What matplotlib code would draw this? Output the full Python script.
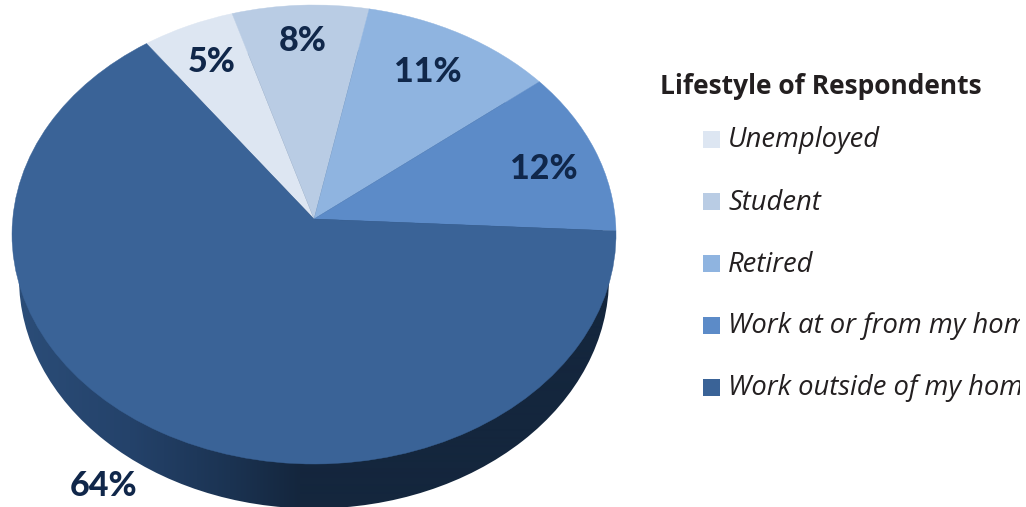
import numpy as np
import matplotlib
matplotlib.use("Agg")
import matplotlib.pyplot as plt
from matplotlib.patches import Ellipse, Rectangle
from matplotlib.path import Path
from matplotlib.transforms import Transform

categories = ["Unemployed", "Student", "Retired", "Work at or from my home", "Work outside of my home"]
shares = [5.3, 7.8, 11.1, 11.6, 64.2]
pct_labels = ["5%", "8%", "11%", "12%", "64%"]
colors = ["#dde6f2", "#b9cce4", "#8fb4e0", "#5c8bc8", "#3a6397"]
legend_title = "Lifestyle of Respondents"

LABEL_POS = [(212, 62), (303, 41), (428, 72), (544, 169), (104, 486)]
LEGEND_Y = [139, 201, 263, 325, 387]

CX, APEX_Y, TOP_Y, BOT_Y, RX = 314.0, 219.0, 5.0, 464.0, 302.0
C = (2 * APEX_Y - TOP_Y - BOT_Y) / (TOP_Y - BOT_Y)
A = TOP_Y * (C + 1) - APEX_Y
K = RX * np.sqrt(1 - C * C)


class Perspective(Transform):
    """Projective map of the unit circle onto the tilted pie top, in pixels."""
    input_dims = output_dims = 2
    is_affine = False

    def transform_non_affine(self, values):
        v = np.asarray(values, dtype=float)
        w = 1 + C * v[:, 1]
        return np.column_stack((CX + K * v[:, 0] / w, (A * v[:, 1] + APEX_Y) / w))

    def transform_path_non_affine(self, path):
        return Path(self.transform_non_affine(path.vertices), path.codes)


fig = plt.figure(figsize=(10.26, 5.07), dpi=100)
ax = fig.add_axes([0, 0, 1, 1])

wedges, _ = ax.pie(shares, colors=colors, startangle=125.9, counterclock=False,
                   radius=1, wedgeprops=dict(linewidth=0.3))
persp = Perspective()
for w, col in zip(wedges, colors):
    w.set_edgecolor(col)
    w.set_transform(persp + ax.transData)
    w.set_zorder(3)

ax.set_aspect("auto")
ax.set_xlim(0, 1026)
ax.set_ylim(507, 0)
ax.axis("off")

# side wall of the pie: horizontal gradient clipped to the lower rim
ycen = (TOP_Y + BOT_Y) / 2 + 0.5
wall = Ellipse((CX, ycen + 43), 2 * 295, BOT_Y - TOP_Y + 2, facecolor="none", edgecolor="none",
               transform=ax.transData)
ax.add_patch(wall)
stops_x = np.array([0, 17, 130, 230, 300, 1026]) / 1026.0
cols = np.array([matplotlib.colors.to_rgb(c) for c in
                 ["#2b4d78", "#2b4d78", "#24426a", "#1b3352", "#14263d", "#14263d"]])
xs = np.linspace(0, 1, 1026)
grad = np.stack([np.interp(xs, stops_x, cols[:, i]) for i in range(3)], axis=-1)[None, :, :]
im = ax.imshow(grad, extent=(0, 1026, 507, 0), aspect="auto", zorder=1, interpolation="bilinear")
im.set_clip_path(wall)
ax.set_xlim(0, 1026)
ax.set_ylim(507, 0)

for txt, (x, y) in zip(pct_labels, LABEL_POS):
    ax.text(x, y, txt, ha="center", va="center", fontsize=24.5, fontweight=900,
            family="Lato", color="#10274a", zorder=5)

ax.text(660, 86, legend_title, ha="left", va="center", fontsize=19, fontweight="bold",
        family="Open Sans", color="#231f20", zorder=5)

clip = Rectangle((0, 0), 1020, 507, transform=ax.transData)
for name, col, y in zip(categories, colors, LEGEND_Y):
    ax.add_patch(Rectangle((703, y - 8.5), 17, 17, facecolor=col, edgecolor="none", zorder=5))
    t = ax.text(728, y + 1.5, name, ha="left", va="center", fontsize=19.7, style="italic",
                family="Open Sans", color="#231f20", zorder=5)
    t.set_clip_path(clip)
    t.set_clip_on(True)

fig.savefig("out.png", dpi=100)
